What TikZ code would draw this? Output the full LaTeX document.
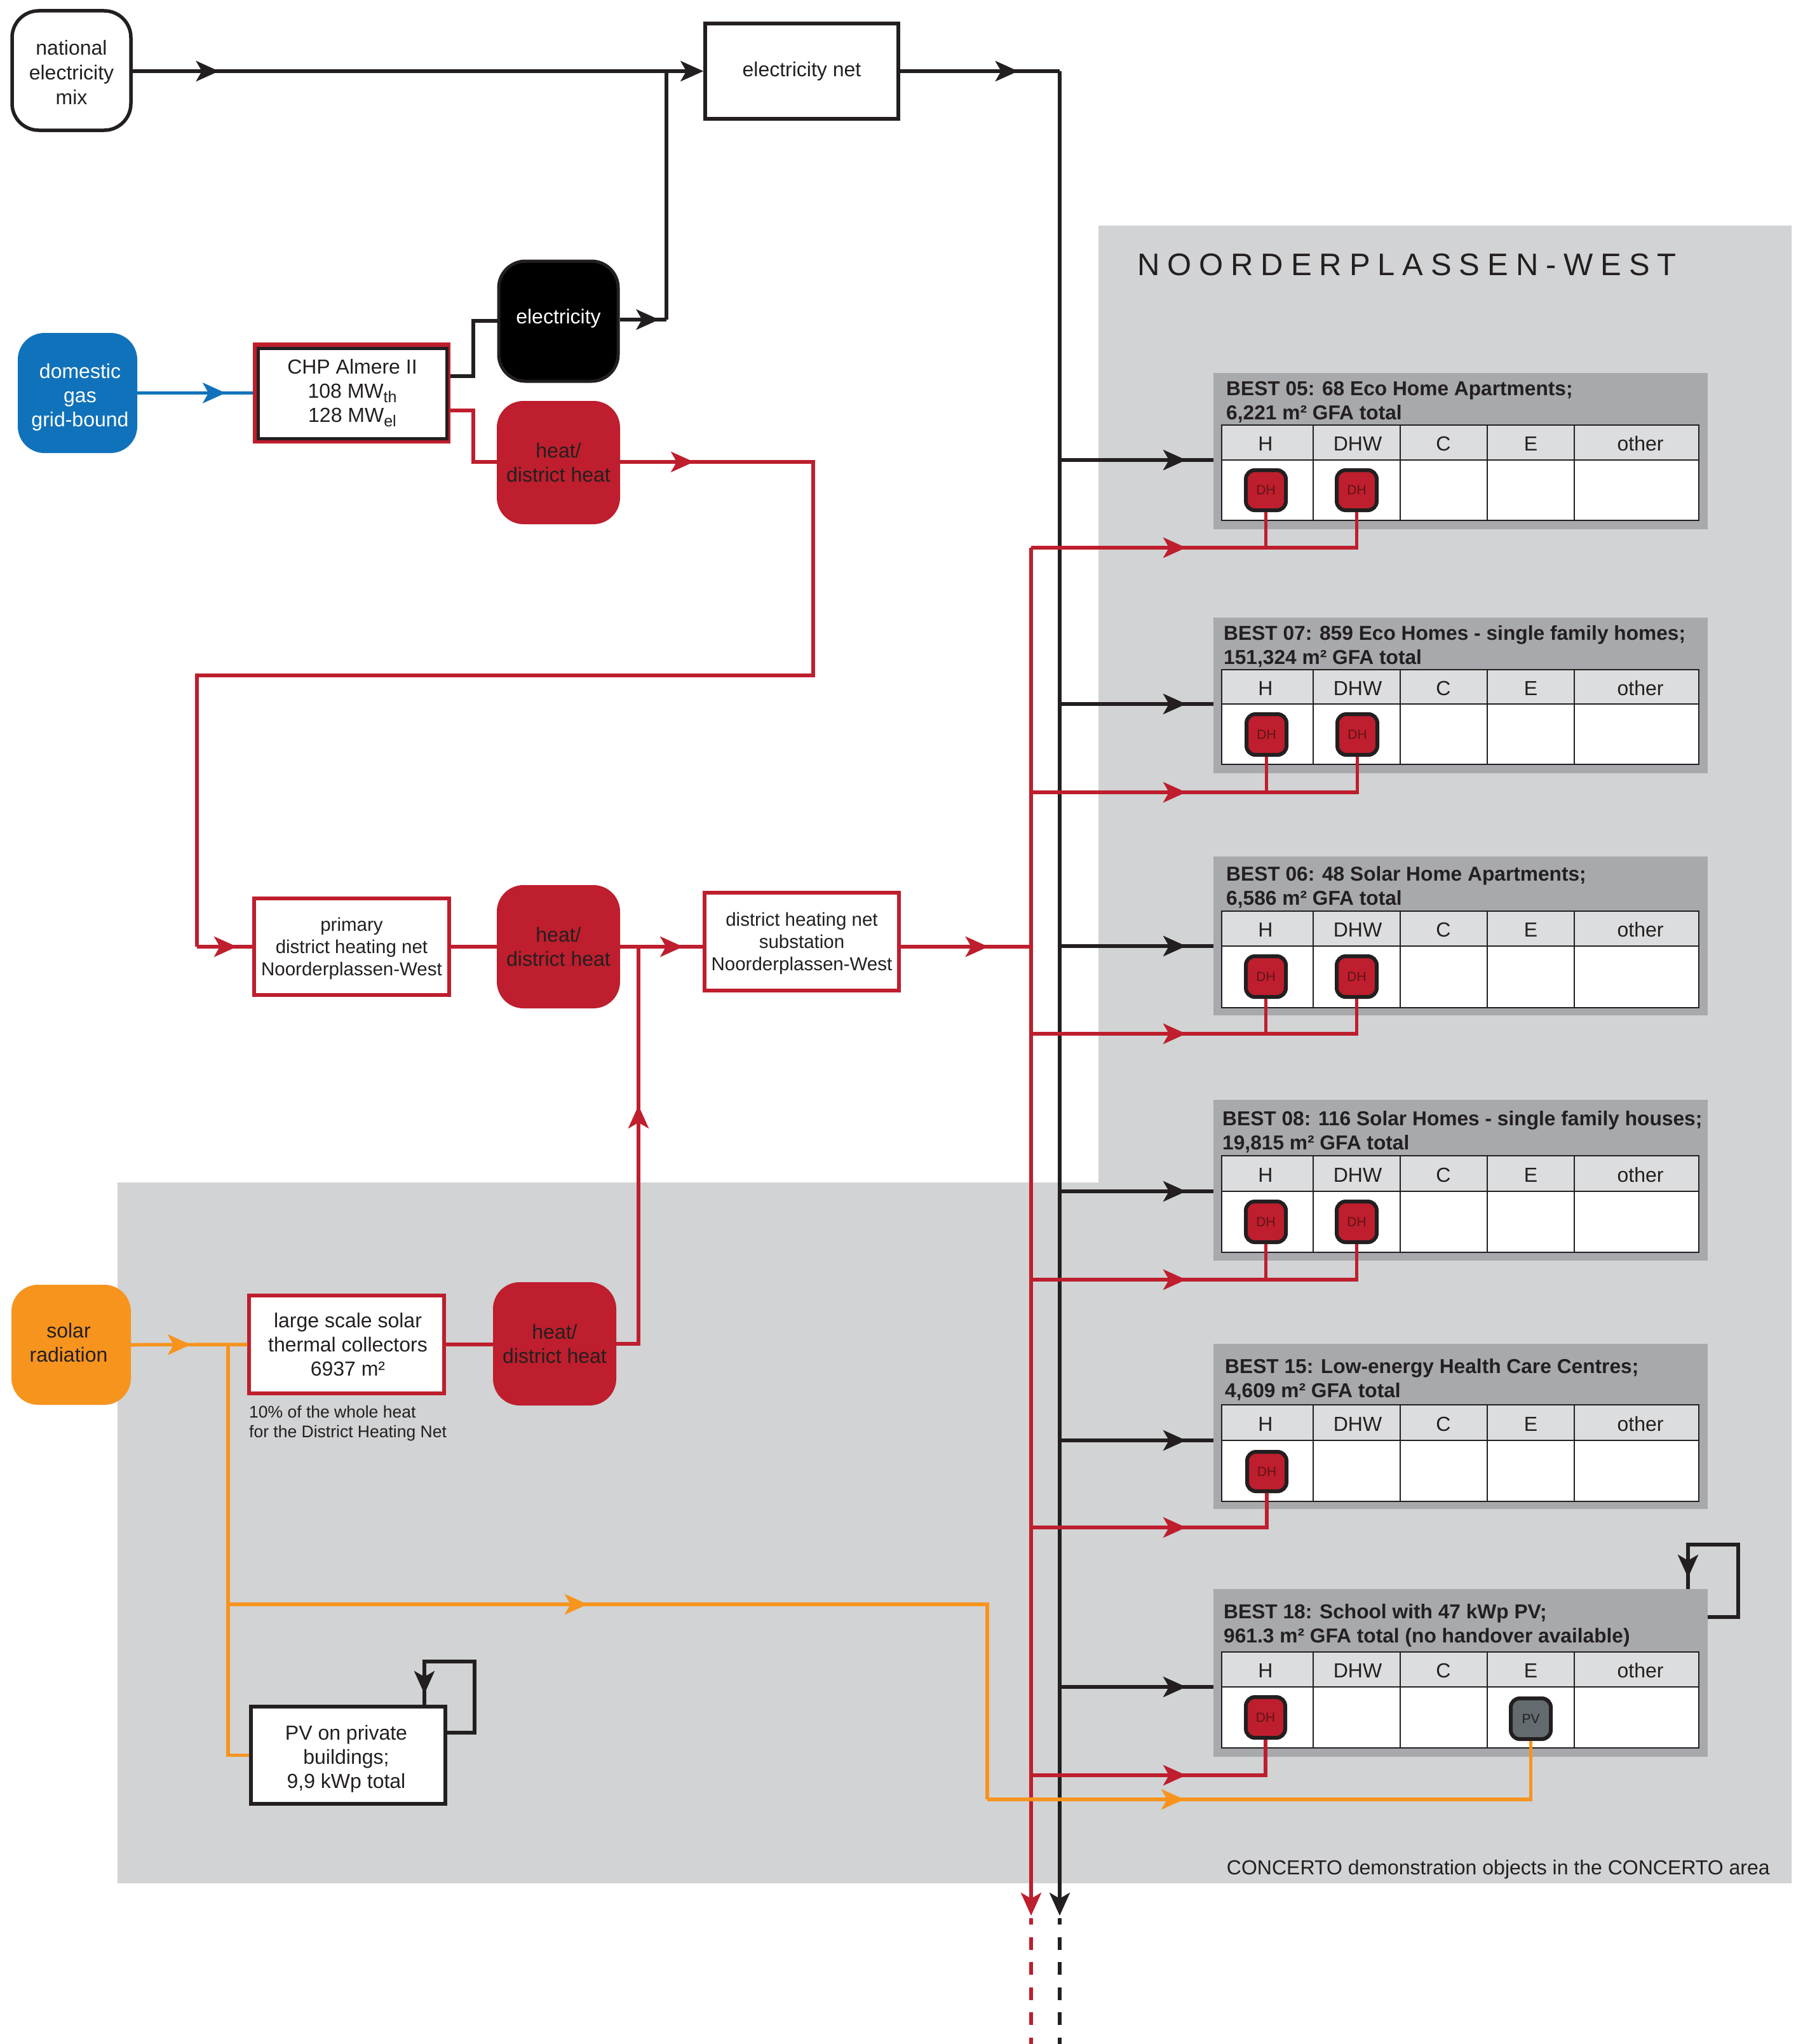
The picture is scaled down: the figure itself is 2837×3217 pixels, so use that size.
\documentclass[tikz,border=0pt]{standalone}
\usepackage{fontspec}
\setmainfont{Liberation Sans}
\usetikzlibrary{arrows.meta,decorations.markings}
\definecolor{bggrey}{HTML}{D1D3D4}
\definecolor{boxgrey}{HTML}{A7A9AC}
\definecolor{hdrgrey}{HTML}{DCDDDE}
\definecolor{ink}{HTML}{231F20}
\definecolor{heatred}{HTML}{BE1E2D}
\definecolor{dhtext}{HTML}{5E1418}
\definecolor{gasblue}{HTML}{1072BA}
\definecolor{sunorange}{HTML}{F7941E}
\definecolor{pvgrey}{HTML}{636B6E}
\tikzset{
  x=1pt,y=-1pt,
  flowtip/.tip={Stealth[length=36pt,width=32pt,inset=9pt]},
  tipat/.style={decoration={markings,mark=at position #1 with {\arrow[xshift=4pt]{flowtip}}},postaction={decorate}},
  elec/.style={draw=ink,line width=5.5pt},
  heat/.style={draw=heatred,line width=5.5pt},
  sun/.style={draw=sunorange,line width=5.5pt},
  gas/.style={draw=gasblue,line width=5.5pt},
  txt/.style={text=ink,font=\fontsize{32}{38}\selectfont,align=center},
  roundbox/.style={txt,rounded corners=42pt},
  heatbox/.style={roundbox,fill=heatred},
  plainbox/.style={txt,fill=white,line width=5.5pt},
  icon/.style={fill=heatred,draw=ink,line width=6pt,rounded corners=14pt,text=dhtext,font=\fontsize{21}{21}\selectfont,inner sep=0pt},
  cell/.style={draw=ink,line width=2.5pt,text=ink,font=\fontsize{32}{32}\selectfont},
}
% style, name, x1, y1, x2, y2, text
\newcommand\placed[7][]{\node[#1,inner sep=0pt,minimum width={#5-#3},minimum height={#6-#4}] (#2) at ({(#3+#5)/2},{(#4+#6)/2}) {#7};}
% moves a text inside its node without changing the size of the node
\newcommand\nudge[3]{\hspace*{#1}\raisebox{#2}[\height][\depth]{#3}}
\newcommand\lines[1]{\begin{tabular}{@{}c@{}}#1\end{tabular}}
% id, title x, title mid y, title, box top, box bottom, table top, header bottom, table bottom
\newcommand\bestblock[9]{%
  \placed[fill=boxgrey]{#1}{1910}{#5}{2688}{#6}{}
  \node[anchor=west,inner sep=0pt,align=left,text=ink,font=\fontsize{31.7}{38}\selectfont\bfseries] (#1t) at (#2,#3) {#4};
  \placed[cell,fill=hdrgrey]{#1a}{1923}{#7}{2067}{#8}{\nudge{-6pt}{-2pt}{H}}
  \placed[cell,fill=hdrgrey]{#1b}{2067}{#7}{2204}{#8}{\nudge{3pt}{-2pt}{DHW}}
  \placed[cell,fill=hdrgrey]{#1c}{2204}{#7}{2341}{#8}{\nudge{-1pt}{-2pt}{C}}
  \placed[cell,fill=hdrgrey]{#1d}{2341}{#7}{2478}{#8}{\nudge{0pt}{-2pt}{E}}
  \placed[cell,fill=hdrgrey]{#1e}{2478}{#7}{2674}{#8}{\nudge{12pt}{-2pt}{other}}
  \placed[cell,fill=white]{#1f}{1923}{#8}{2067}{#9}{}
  \placed[cell,fill=white]{#1g}{2067}{#8}{2204}{#9}{}
  \placed[cell,fill=white]{#1h}{2204}{#8}{2341}{#9}{}
  \placed[cell,fill=white]{#1i}{2341}{#8}{2478}{#9}{}
  \placed[cell,fill=white]{#1j}{2478}{#8}{2674}{#9}{}
}
% block id, header y, red y
\newcommand\feeds[3]{%
  \coordinate (#1in) at (1668,#2);
  \draw[elec,tipat=195pt] (#1in) -- (#1in -| #1.west);
  \coordinate (#1out) at (1623,#3);
}
\begin{document}
\begin{tikzpicture}
\useasboundingbox (0,0) rectangle (2837,3217);
\fill[white] (0,0) rectangle (2837,3217);
\fill[bggrey] (1729,355) -- (2820,355) -- (2820,2964) -- (185,2964) -- (185,1861) -- (1729,1861) -- cycle;

\node[anchor=west,inner sep=0pt,text=ink,font=\fontsize{49}{49}\selectfont\addfontfeature{LetterSpace=24.3}] (area) at (1790,417) {NOORDERPLASSEN-WEST};
\node[anchor=east,inner sep=0pt,text=ink,font=\fontsize{32}{38}\selectfont] (demo) at (2786,2942) {CONCERTO demonstration objects in the CONCERTO area};

% source column
\placed[roundbox,draw=ink,fill=white,line width=5.5pt,font=\fontsize{32}{39}\selectfont]{nat}{19}{17}{206}{205}{\nudge{0pt}{-7pt}{\lines{national\\electricity\\mix}}}
\placed[plainbox,draw=ink]{net}{1110}{37}{1414}{187}{electricity net}
\placed[roundbox,fill=black,draw=ink,line width=5pt,text=white]{eb}{785}{411}{973}{600}{\nudge{0pt}{4pt}{electricity}}
\placed[roundbox,fill=gasblue,text=white]{gasb}{28}{524}{216}{713}{\nudge{8pt}{-7pt}{\lines{domestic\\gas\\grid-bound}}}
\placed[fill=heatred]{chpo}{398}{539}{709}{698}{}
\placed[plainbox,draw=ink,line width=5pt]{chp}{406}{548}{703}{690}{CHP Almere II\\108 MW\raisebox{-7pt}{\fontsize{25}{25}\selectfont th}\\128 MW\raisebox{-7pt}{\fontsize{25}{25}\selectfont el}}
\placed[heatbox]{h1}{782}{631}{976}{825}{heat/\\district heat}
\placed[plainbox,draw=heatred,font=\fontsize{29.5}{35}\selectfont]{prim}{400}{1414}{707}{1566}{\nudge{0pt}{-3pt}{\lines{primary\\district heating net\\Noorderplassen-West}}}
\placed[heatbox]{h2}{782}{1393}{976}{1587}{heat/\\district heat}
\placed[plainbox,draw=heatred,font=\fontsize{29.5}{35}\selectfont]{sub}{1109}{1405}{1415}{1559}{\nudge{0pt}{-3pt}{\lines{district heating net\\substation\\Noorderplassen-West}}}
\placed[roundbox,fill=sunorange]{solar}{18}{2022}{206}{2211}{\nudge{-8pt}{0pt}{\lines{solar\\radiation}}}
\placed[plainbox,draw=heatred]{coll}{392}{2039}{699}{2193}{\nudge{4pt}{-4pt}{\lines{large scale solar\\thermal collectors\\6937 m²}}}
\placed[heatbox]{h3}{776}{2018}{970}{2212}{heat/\\district heat}
\placed[plainbox,draw=ink]{pvb}{395}{2686}{701}{2839}{\nudge{-6pt}{-6pt}{\lines{PV on private\\buildings;\\9,9 kWp total}}}
\node[anchor=north west,inner sep=0pt,align=left,text=ink,font=\fontsize{26.5}{31}\selectfont] (note) at (392,2212) {10\% of the whole heat\\for the District Heating Net};

% demonstration blocks
\bestblock{b1}{1930}{633}{BEST 05: 68 Eco Home Apartments;\\6,221 m² GFA total}{587}{833}{669}{724}{819}
\bestblock{b2}{1926}{1017}{BEST 07: 859 Eco Homes - single family homes;\\151,324 m² GFA total}{972}{1217}{1054}{1108}{1203}
\bestblock{b3}{1930}{1396}{BEST 06: 48 Solar Home Apartments;\\6,586 m² GFA total}{1348}{1598}{1434}{1489}{1586}
\bestblock{b4}{1924}{1781}{BEST 08: 116 Solar Homes - single family houses;\\19,815 m² GFA total}{1731}{1984}{1819}{1875}{1971}
\bestblock{b5}{1928}{2171}{BEST 15: Low-energy Health Care Centres;\\4,609 m² GFA total}{2115}{2375}{2211}{2267}{2363}
\bestblock{b6}{1926}{2558}{BEST 18: School with 47 kWp PV;\\961.3 m² GFA total (no handover available)}{2501}{2765}{2600}{2655}{2751}

\placed[icon]{b1x}{1961}{740}{2024}{803}{DH}
\placed[icon]{b1y}{2104}{740}{2167}{803}{DH}
\placed[icon]{b2x}{1962}{1124}{2025}{1188}{DH}
\placed[icon]{b2y}{2105}{1124}{2168}{1188}{DH}
\placed[icon]{b3x}{1961}{1505}{2024}{1569}{DH}
\placed[icon]{b3y}{2104}{1505}{2167}{1569}{DH}
\placed[icon]{b4x}{1961}{1891}{2024}{1955}{DH}
\placed[icon]{b4y}{2104}{1891}{2167}{1955}{DH}
\placed[icon]{b5x}{1963}{2285}{2025}{2347}{DH}
\placed[icon]{b6x}{1961}{2671}{2023}{2735}{DH}
\placed[icon,fill=pvgrey,text=ink]{b6p}{2378}{2673}{2441}{2737}{PV}

% electricity
\coordinate (elup) at (1049,503);
\coordinate (nettop) at (1668,112);
\coordinate (elbot) at (1668,3015);
\coordinate (eldash) at (1668,3019);
\coordinate (elend) at (1668,3217);
\coordinate (natj) at (1049,112);
\coordinate (chpel) at (709,592);
\coordinate (chpknee) at (745,505);
\draw[elec,-{flowtip},tipat=132pt] (nat.east |- natj) -- (net.west |- natj);
\draw[elec] (natj) -- (elup);
\draw[elec,tipat=58pt] (eb.east |- elup) -- (elup);
\draw[elec] (chpel) -| (chpknee) -- (eb.west |- chpknee);
\draw[elec,tipat=182pt] (net.east |- nettop) -- (nettop);
\draw[elec,-{flowtip}] (nettop) -- (elbot);
\draw[elec,dash pattern=on 20pt off 19.5pt,dash phase=10pt] (eldash) -- (elend);
\feeds{b1}{724}{862}
\feeds{b2}{1108}{1247}
\feeds{b3}{1489}{1627}
\feeds{b4}{1875}{2014}
\feeds{b5}{2267}{2404}
\feeds{b6}{2655}{2794}
\coordinate (pvl) at (701,2727);
\coordinate (pvr) at (747,2615);
\coordinate (pvt) at (668,2686);
\draw[elec,tipat=284pt] (pvl) -| (pvr) -| (pvt);
\coordinate (sl) at (2688,2545);
\coordinate (sr) at (2736,2431);
\coordinate (st) at (2657,2501);
\draw[elec,tipat=289pt] (sl) -| (sr) -| (st);

% gas
\draw[gas,tipat=135pt] (gasb.east |- chpo.west) -- (chpo.west);

% heat
\coordinate (chpth) at (709,646);
\coordinate (heatknee) at (745,727);
\coordinate (heatr) at (1280,1063);
\coordinate (heatl) at (310,1490);
\coordinate (subj) at (1623,1490);
\coordinate (redtop) at (1623,862);
\coordinate (redbot) at (1623,3015);
\coordinate (reddash) at (1623,3019);
\coordinate (redend) at (1623,3217);
\coordinate (solj) at (1005,1490);
\draw[heat] (chpth) -| (heatknee) -- (h1.west |- heatknee);
\draw[heat,tipat=112pt] (h1.east |- heatknee) -| (heatr) -| (heatl);
\draw[heat,tipat=59pt] (heatl) -- (prim.west |- heatl);
\draw[heat] (prim.east |- heatl) -- (h2.west |- heatl);
\draw[heat,tipat=95pt] (h2.east |- heatl) -- (sub.west |- heatl);
\draw[heat,tipat=134pt] (sub.east |- heatl) -- (subj);
\draw[heat] (coll.east) -- (h3.west |- coll.east);
\draw[heat,tipat=406pt] (h3.east) -| (solj);
\draw[heat,-{flowtip}] (redtop) -- (redbot);
\draw[heat,dash pattern=on 20pt off 19.5pt,dash phase=10pt] (reddash) -- (redend);
\draw[heat,tipat=240pt] (b1out) -| (b1y.south);
\draw[heat] (b1x.south) -- (b1x.south |- b1out);
\draw[heat,tipat=240pt] (b2out) -| (b2y.south);
\draw[heat] (b2x.south) -- (b2x.south |- b2out);
\draw[heat,tipat=240pt] (b3out) -| (b3y.south);
\draw[heat] (b3x.south) -- (b3x.south |- b3out);
\draw[heat,tipat=240pt] (b4out) -| (b4y.south);
\draw[heat] (b4x.south) -- (b4x.south |- b4out);
\draw[heat,tipat=240pt] (b5out) -| (b5x.south);
\draw[heat,tipat=240pt] (b6out) -| (b6x.south);

% solar
\coordinate (oj) at (359,2116);
\coordinate (om) at (359,2525);
\coordinate (ok) at (1554,2525);
\coordinate (ob) at (1554,2832);
\draw[sun,tipat=90pt] (solar.east) -- (coll.west);
\draw[sun] (oj) |- (pvb.west);
\draw[sun,tipat=562pt] (om) -- (ok) -- (ob);
\draw[sun,tipat=306pt] (ob) -| (b6p.south);
\end{tikzpicture}
\end{document}
